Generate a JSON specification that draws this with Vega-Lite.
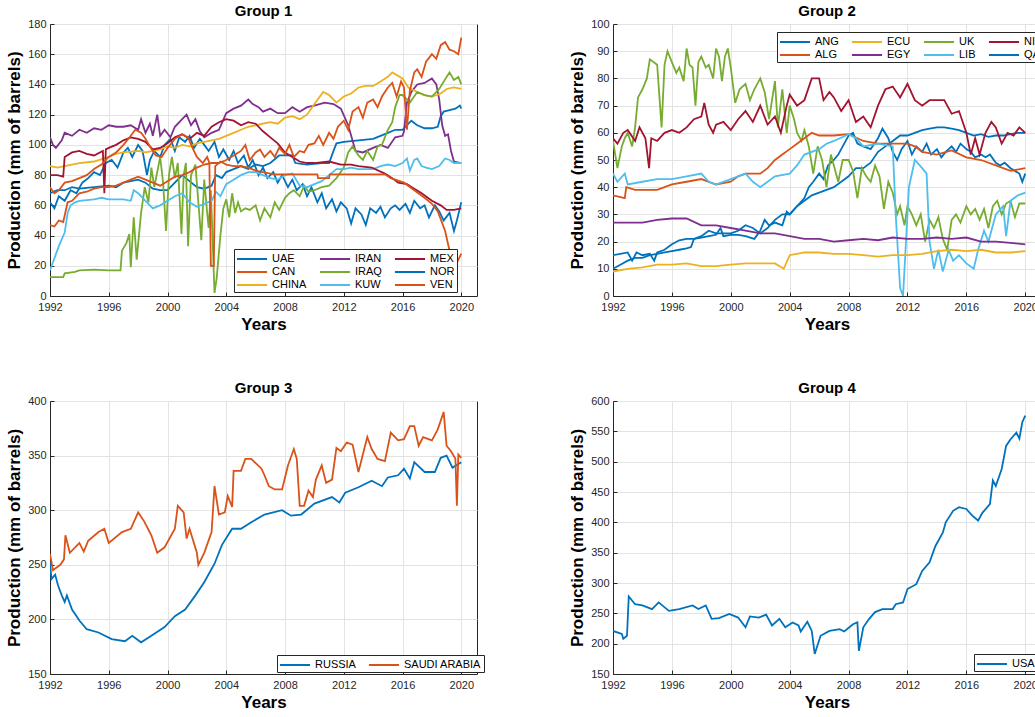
{
"$schema":"https://vega.github.io/schema/vega-lite/v6.json",
"padding":{"left":5,"top":3,"right":0,"bottom":0},
"background":"white",
"columns":2,
"spacing":{"row":47,"column":83},
"resolve":{"scale":{"color":"independent","x":"independent","y":"independent"},"legend":{"color":"independent"},"axis":{"x":"independent","y":"independent"}},
"datasets":{
"g1":[
{"s":"UAE","t":1992,"v":68},{"s":"UAE","t":1992.5,"v":70},{"s":"UAE","t":1993,"v":70},{"s":"UAE","t":1993.5,"v":72},{"s":"UAE","t":1994,"v":71},{"s":"UAE","t":1995,"v":72},{"s":"UAE","t":1996,"v":73},{"s":"UAE","t":1996.5,"v":72},{"s":"UAE","t":1997,"v":75},{"s":"UAE","t":1997.5,"v":76},{"s":"UAE","t":1998,"v":77},{"s":"UAE","t":1998.5,"v":75},{"s":"UAE","t":1999,"v":71},{"s":"UAE","t":1999.5,"v":70},{"s":"UAE","t":2000,"v":70},{"s":"UAE","t":2000.5,"v":75},{"s":"UAE","t":2001,"v":80},{"s":"UAE","t":2001.5,"v":76},{"s":"UAE","t":2002,"v":72},{"s":"UAE","t":2002.5,"v":71},{"s":"UAE","t":2003,"v":73},{"s":"UAE","t":2003.3,"v":80},{"s":"UAE","t":2003.7,"v":78},{"s":"UAE","t":2004,"v":82},{"s":"UAE","t":2004.5,"v":84},{"s":"UAE","t":2005,"v":86},{"s":"UAE","t":2005.5,"v":84},{"s":"UAE","t":2006,"v":87},{"s":"UAE","t":2006.5,"v":86},{"s":"UAE","t":2007,"v":88},{"s":"UAE","t":2007.6,"v":93},{"s":"UAE","t":2008.5,"v":93},{"s":"UAE","t":2008.7,"v":88},{"s":"UAE","t":2009.5,"v":87},{"s":"UAE","t":2010.5,"v":88},{"s":"UAE","t":2011,"v":88},{"s":"UAE","t":2011.3,"v":96},{"s":"UAE","t":2011.5,"v":101},{"s":"UAE","t":2012,"v":102},{"s":"UAE","t":2013,"v":103},{"s":"UAE","t":2014,"v":104},{"s":"UAE","t":2014.5,"v":106},{"s":"UAE","t":2015,"v":108},{"s":"UAE","t":2015.5,"v":110},{"s":"UAE","t":2016,"v":110},{"s":"UAE","t":2016.3,"v":113},{"s":"UAE","t":2016.6,"v":116},{"s":"UAE","t":2017,"v":113},{"s":"UAE","t":2017.5,"v":111},{"s":"UAE","t":2018,"v":111},{"s":"UAE","t":2018.4,"v":112},{"s":"UAE","t":2018.6,"v":119},{"s":"UAE","t":2018.8,"v":122},{"s":"UAE","t":2019.2,"v":123},{"s":"UAE","t":2019.6,"v":124},{"s":"UAE","t":2019.9,"v":126},{"s":"UAE","t":2020,"v":124},
{"s":"NOR","t":1992,"v":62},{"s":"NOR","t":1992.3,"v":58},{"s":"NOR","t":1992.6,"v":66},{"s":"NOR","t":1993,"v":63},{"s":"NOR","t":1993.4,"v":70},{"s":"NOR","t":1993.8,"v":68},{"s":"NOR","t":1994.2,"v":75},{"s":"NOR","t":1994.6,"v":78},{"s":"NOR","t":1995,"v":82},{"s":"NOR","t":1995.4,"v":80},{"s":"NOR","t":1995.8,"v":88},{"s":"NOR","t":1996.2,"v":90},{"s":"NOR","t":1996.6,"v":85},{"s":"NOR","t":1997,"v":95},{"s":"NOR","t":1997.3,"v":98},{"s":"NOR","t":1997.6,"v":92},{"s":"NOR","t":1998,"v":100},{"s":"NOR","t":1998.3,"v":96},{"s":"NOR","t":1998.6,"v":80},{"s":"NOR","t":1998.8,"v":90},{"s":"NOR","t":1999.1,"v":96},{"s":"NOR","t":1999.5,"v":92},{"s":"NOR","t":1999.8,"v":100},{"s":"NOR","t":2000.2,"v":104},{"s":"NOR","t":2000.5,"v":96},{"s":"NOR","t":2000.8,"v":105},{"s":"NOR","t":2001.2,"v":102},{"s":"NOR","t":2001.5,"v":106},{"s":"NOR","t":2001.8,"v":98},{"s":"NOR","t":2002.2,"v":104},{"s":"NOR","t":2002.5,"v":100},{"s":"NOR","t":2002.8,"v":96},{"s":"NOR","t":2003.2,"v":102},{"s":"NOR","t":2003.5,"v":92},{"s":"NOR","t":2003.8,"v":97},{"s":"NOR","t":2004.2,"v":90},{"s":"NOR","t":2004.5,"v":96},{"s":"NOR","t":2004.8,"v":88},{"s":"NOR","t":2005.2,"v":93},{"s":"NOR","t":2005.5,"v":85},{"s":"NOR","t":2005.8,"v":90},{"s":"NOR","t":2006.2,"v":80},{"s":"NOR","t":2006.5,"v":85},{"s":"NOR","t":2006.8,"v":78},{"s":"NOR","t":2007.2,"v":82},{"s":"NOR","t":2007.5,"v":75},{"s":"NOR","t":2007.8,"v":80},{"s":"NOR","t":2008.2,"v":72},{"s":"NOR","t":2008.5,"v":77},{"s":"NOR","t":2008.8,"v":70},{"s":"NOR","t":2009.2,"v":74},{"s":"NOR","t":2009.5,"v":66},{"s":"NOR","t":2009.8,"v":72},{"s":"NOR","t":2010.2,"v":62},{"s":"NOR","t":2010.5,"v":68},{"s":"NOR","t":2010.8,"v":58},{"s":"NOR","t":2011.2,"v":64},{"s":"NOR","t":2011.5,"v":56},{"s":"NOR","t":2011.8,"v":62},{"s":"NOR","t":2012.2,"v":58},{"s":"NOR","t":2012.5,"v":48},{"s":"NOR","t":2012.8,"v":58},{"s":"NOR","t":2013.2,"v":54},{"s":"NOR","t":2013.5,"v":47},{"s":"NOR","t":2013.8,"v":58},{"s":"NOR","t":2014.2,"v":55},{"s":"NOR","t":2014.5,"v":59},{"s":"NOR","t":2014.8,"v":52},{"s":"NOR","t":2015.2,"v":58},{"s":"NOR","t":2015.5,"v":60},{"s":"NOR","t":2015.8,"v":57},{"s":"NOR","t":2016.2,"v":61},{"s":"NOR","t":2016.5,"v":55},{"s":"NOR","t":2016.8,"v":63},{"s":"NOR","t":2017.2,"v":58},{"s":"NOR","t":2017.5,"v":60},{"s":"NOR","t":2017.8,"v":52},{"s":"NOR","t":2018.2,"v":60},{"s":"NOR","t":2018.5,"v":56},{"s":"NOR","t":2018.8,"v":50},{"s":"NOR","t":2019.2,"v":55},{"s":"NOR","t":2019.5,"v":43},{"s":"NOR","t":2019.7,"v":50},{"s":"NOR","t":2019.9,"v":58},{"s":"NOR","t":2020,"v":62},
{"s":"IRAN","t":1992,"v":105},{"s":"IRAN","t":1992.2,"v":100},{"s":"IRAN","t":1992.4,"v":98},{"s":"IRAN","t":1992.8,"v":103},{"s":"IRAN","t":1993,"v":108},{"s":"IRAN","t":1993.5,"v":106},{"s":"IRAN","t":1994,"v":110},{"s":"IRAN","t":1994.5,"v":108},{"s":"IRAN","t":1995,"v":111},{"s":"IRAN","t":1995.5,"v":110},{"s":"IRAN","t":1996,"v":113},{"s":"IRAN","t":1996.5,"v":112},{"s":"IRAN","t":1997,"v":112},{"s":"IRAN","t":1997.5,"v":113},{"s":"IRAN","t":1998,"v":110},{"s":"IRAN","t":1998.2,"v":117},{"s":"IRAN","t":1998.5,"v":108},{"s":"IRAN","t":1998.8,"v":114},{"s":"IRAN","t":1999,"v":106},{"s":"IRAN","t":1999.3,"v":120},{"s":"IRAN","t":1999.5,"v":106},{"s":"IRAN","t":1999.8,"v":110},{"s":"IRAN","t":2000.2,"v":105},{"s":"IRAN","t":2000.5,"v":112},{"s":"IRAN","t":2001,"v":117},{"s":"IRAN","t":2001.3,"v":120},{"s":"IRAN","t":2001.6,"v":113},{"s":"IRAN","t":2001.9,"v":117},{"s":"IRAN","t":2002.2,"v":109},{"s":"IRAN","t":2002.5,"v":105},{"s":"IRAN","t":2003,"v":108},{"s":"IRAN","t":2003.5,"v":110},{"s":"IRAN","t":2004,"v":121},{"s":"IRAN","t":2004.5,"v":124},{"s":"IRAN","t":2005,"v":126},{"s":"IRAN","t":2005.5,"v":130},{"s":"IRAN","t":2005.8,"v":127},{"s":"IRAN","t":2006.2,"v":125},{"s":"IRAN","t":2006.5,"v":122},{"s":"IRAN","t":2007,"v":124},{"s":"IRAN","t":2007.5,"v":121},{"s":"IRAN","t":2008,"v":121},{"s":"IRAN","t":2008.5,"v":125},{"s":"IRAN","t":2009,"v":122},{"s":"IRAN","t":2009.5,"v":125},{"s":"IRAN","t":2010,"v":126},{"s":"IRAN","t":2010.7,"v":128},{"s":"IRAN","t":2011.3,"v":127},{"s":"IRAN","t":2011.8,"v":124},{"s":"IRAN","t":2012.3,"v":113},{"s":"IRAN","t":2012.8,"v":96},{"s":"IRAN","t":2013.3,"v":95},{"s":"IRAN","t":2014,"v":98},{"s":"IRAN","t":2014.5,"v":100},{"s":"IRAN","t":2015,"v":98},{"s":"IRAN","t":2015.5,"v":105},{"s":"IRAN","t":2016,"v":106},{"s":"IRAN","t":2016.1,"v":109},{"s":"IRAN","t":2016.3,"v":128},{"s":"IRAN","t":2016.6,"v":135},{"s":"IRAN","t":2017,"v":140},{"s":"IRAN","t":2017.5,"v":141},{"s":"IRAN","t":2018,"v":144},{"s":"IRAN","t":2018.3,"v":140},{"s":"IRAN","t":2018.5,"v":130},{"s":"IRAN","t":2018.7,"v":113},{"s":"IRAN","t":2018.9,"v":106},{"s":"IRAN","t":2019.1,"v":107},{"s":"IRAN","t":2019.3,"v":96},{"s":"IRAN","t":2019.5,"v":89},{"s":"IRAN","t":2020,"v":88},
{"s":"CHINA","t":1992,"v":86},{"s":"CHINA","t":1992.5,"v":85},{"s":"CHINA","t":1993,"v":86},{"s":"CHINA","t":1993.5,"v":87},{"s":"CHINA","t":1994,"v":88},{"s":"CHINA","t":1995,"v":89},{"s":"CHINA","t":1996,"v":92},{"s":"CHINA","t":1996.5,"v":94},{"s":"CHINA","t":1997,"v":95},{"s":"CHINA","t":1998,"v":96},{"s":"CHINA","t":1998.5,"v":95},{"s":"CHINA","t":1999,"v":96},{"s":"CHINA","t":1999.5,"v":97},{"s":"CHINA","t":2000,"v":99},{"s":"CHINA","t":2000.5,"v":98},{"s":"CHINA","t":2001,"v":100},{"s":"CHINA","t":2001.5,"v":99},{"s":"CHINA","t":2002,"v":101},{"s":"CHINA","t":2002.5,"v":102},{"s":"CHINA","t":2003,"v":103},{"s":"CHINA","t":2003.5,"v":104},{"s":"CHINA","t":2004,"v":106},{"s":"CHINA","t":2004.5,"v":108},{"s":"CHINA","t":2005,"v":110},{"s":"CHINA","t":2005.5,"v":112},{"s":"CHINA","t":2006,"v":113},{"s":"CHINA","t":2006.5,"v":114},{"s":"CHINA","t":2007,"v":115},{"s":"CHINA","t":2007.5,"v":114},{"s":"CHINA","t":2008,"v":118},{"s":"CHINA","t":2008.5,"v":119},{"s":"CHINA","t":2009,"v":117},{"s":"CHINA","t":2009.5,"v":120},{"s":"CHINA","t":2010,"v":127},{"s":"CHINA","t":2010.6,"v":135},{"s":"CHINA","t":2011,"v":133},{"s":"CHINA","t":2011.5,"v":128},{"s":"CHINA","t":2012,"v":132},{"s":"CHINA","t":2012.5,"v":134},{"s":"CHINA","t":2013,"v":138},{"s":"CHINA","t":2013.5,"v":139},{"s":"CHINA","t":2014,"v":139},{"s":"CHINA","t":2014.5,"v":142},{"s":"CHINA","t":2015,"v":145},{"s":"CHINA","t":2015.3,"v":148},{"s":"CHINA","t":2016,"v":144},{"s":"CHINA","t":2016.4,"v":138},{"s":"CHINA","t":2017,"v":135},{"s":"CHINA","t":2017.5,"v":133},{"s":"CHINA","t":2018,"v":132},{"s":"CHINA","t":2018.6,"v":134},{"s":"CHINA","t":2019,"v":137},{"s":"CHINA","t":2019.5,"v":138},{"s":"CHINA","t":2020,"v":137},
{"s":"IRAQ","t":1992,"v":12.5},{"s":"IRAQ","t":1992.9,"v":12.5},{"s":"IRAQ","t":1993,"v":15},{"s":"IRAQ","t":1993.7,"v":16},{"s":"IRAQ","t":1994,"v":17},{"s":"IRAQ","t":1995,"v":17.5},{"s":"IRAQ","t":1996,"v":17},{"s":"IRAQ","t":1996.8,"v":17},{"s":"IRAQ","t":1996.9,"v":30},{"s":"IRAQ","t":1997.2,"v":35},{"s":"IRAQ","t":1997.4,"v":41},{"s":"IRAQ","t":1997.5,"v":19},{"s":"IRAQ","t":1997.7,"v":52},{"s":"IRAQ","t":1997.9,"v":24},{"s":"IRAQ","t":1998.2,"v":55},{"s":"IRAQ","t":1998.45,"v":72},{"s":"IRAQ","t":1998.7,"v":62},{"s":"IRAQ","t":1998.9,"v":85},{"s":"IRAQ","t":1999.1,"v":72},{"s":"IRAQ","t":1999.3,"v":82},{"s":"IRAQ","t":1999.5,"v":92},{"s":"IRAQ","t":1999.7,"v":75},{"s":"IRAQ","t":1999.9,"v":43},{"s":"IRAQ","t":2000.1,"v":80},{"s":"IRAQ","t":2000.3,"v":92},{"s":"IRAQ","t":2000.5,"v":78},{"s":"IRAQ","t":2000.7,"v":88},{"s":"IRAQ","t":2000.95,"v":41},{"s":"IRAQ","t":2001.1,"v":80},{"s":"IRAQ","t":2001.25,"v":88},{"s":"IRAQ","t":2001.4,"v":33},{"s":"IRAQ","t":2001.6,"v":80},{"s":"IRAQ","t":2001.9,"v":87},{"s":"IRAQ","t":2002.1,"v":62},{"s":"IRAQ","t":2002.3,"v":37},{"s":"IRAQ","t":2002.5,"v":77},{"s":"IRAQ","t":2002.7,"v":55},{"s":"IRAQ","t":2002.8,"v":45},{"s":"IRAQ","t":2002.95,"v":70},{"s":"IRAQ","t":2003.2,"v":2},{"s":"IRAQ","t":2003.35,"v":12},{"s":"IRAQ","t":2003.6,"v":40},{"s":"IRAQ","t":2003.8,"v":58},{"s":"IRAQ","t":2004,"v":64},{"s":"IRAQ","t":2004.2,"v":52},{"s":"IRAQ","t":2004.4,"v":68},{"s":"IRAQ","t":2004.6,"v":55},{"s":"IRAQ","t":2004.8,"v":62},{"s":"IRAQ","t":2005,"v":56},{"s":"IRAQ","t":2005.3,"v":58},{"s":"IRAQ","t":2005.6,"v":57},{"s":"IRAQ","t":2006,"v":60},{"s":"IRAQ","t":2006.3,"v":50},{"s":"IRAQ","t":2006.6,"v":58},{"s":"IRAQ","t":2007,"v":52},{"s":"IRAQ","t":2007.3,"v":62},{"s":"IRAQ","t":2007.6,"v":57},{"s":"IRAQ","t":2008,"v":65},{"s":"IRAQ","t":2008.3,"v":68},{"s":"IRAQ","t":2008.6,"v":70},{"s":"IRAQ","t":2009,"v":66},{"s":"IRAQ","t":2009.3,"v":73},{"s":"IRAQ","t":2009.6,"v":69},{"s":"IRAQ","t":2010,"v":70},{"s":"IRAQ","t":2010.5,"v":72},{"s":"IRAQ","t":2011,"v":73},{"s":"IRAQ","t":2011.5,"v":78},{"s":"IRAQ","t":2012,"v":85},{"s":"IRAQ","t":2012.3,"v":95},{"s":"IRAQ","t":2012.6,"v":99},{"s":"IRAQ","t":2013,"v":93},{"s":"IRAQ","t":2013.3,"v":90},{"s":"IRAQ","t":2013.6,"v":96},{"s":"IRAQ","t":2014,"v":90},{"s":"IRAQ","t":2014.3,"v":99},{"s":"IRAQ","t":2014.6,"v":100},{"s":"IRAQ","t":2015,"v":110},{"s":"IRAQ","t":2015.3,"v":115},{"s":"IRAQ","t":2015.5,"v":125},{"s":"IRAQ","t":2015.8,"v":133},{"s":"IRAQ","t":2016,"v":133},{"s":"IRAQ","t":2016.5,"v":128},{"s":"IRAQ","t":2017,"v":135},{"s":"IRAQ","t":2017.5,"v":133},{"s":"IRAQ","t":2018,"v":132},{"s":"IRAQ","t":2018.5,"v":137},{"s":"IRAQ","t":2019,"v":145},{"s":"IRAQ","t":2019.2,"v":148},{"s":"IRAQ","t":2019.5,"v":143},{"s":"IRAQ","t":2019.8,"v":145},{"s":"IRAQ","t":2020,"v":140},
{"s":"KUW","t":1992,"v":17},{"s":"KUW","t":1992.3,"v":25},{"s":"KUW","t":1992.6,"v":33},{"s":"KUW","t":1993,"v":42},{"s":"KUW","t":1993.2,"v":55},{"s":"KUW","t":1993.4,"v":60},{"s":"KUW","t":1993.7,"v":62},{"s":"KUW","t":1994,"v":63},{"s":"KUW","t":1995,"v":64},{"s":"KUW","t":1995.5,"v":65},{"s":"KUW","t":1996,"v":64},{"s":"KUW","t":1997,"v":64},{"s":"KUW","t":1997.5,"v":63},{"s":"KUW","t":1997.7,"v":70},{"s":"KUW","t":1998,"v":68},{"s":"KUW","t":1998.5,"v":63},{"s":"KUW","t":1999,"v":58},{"s":"KUW","t":1999.5,"v":60},{"s":"KUW","t":2000,"v":63},{"s":"KUW","t":2000.5,"v":66},{"s":"KUW","t":2001,"v":68},{"s":"KUW","t":2001.5,"v":62},{"s":"KUW","t":2002,"v":59},{"s":"KUW","t":2002.5,"v":61},{"s":"KUW","t":2003,"v":63},{"s":"KUW","t":2003.3,"v":69},{"s":"KUW","t":2003.6,"v":66},{"s":"KUW","t":2003.8,"v":70},{"s":"KUW","t":2004,"v":74},{"s":"KUW","t":2004.5,"v":77},{"s":"KUW","t":2005,"v":80},{"s":"KUW","t":2005.5,"v":82},{"s":"KUW","t":2006,"v":82},{"s":"KUW","t":2006.5,"v":80},{"s":"KUW","t":2007,"v":78},{"s":"KUW","t":2007.5,"v":77},{"s":"KUW","t":2008,"v":80},{"s":"KUW","t":2008.5,"v":81},{"s":"KUW","t":2009,"v":73},{"s":"KUW","t":2009.5,"v":72},{"s":"KUW","t":2010,"v":74},{"s":"KUW","t":2010.5,"v":76},{"s":"KUW","t":2011,"v":80},{"s":"KUW","t":2011.5,"v":84},{"s":"KUW","t":2012,"v":84},{"s":"KUW","t":2012.5,"v":85},{"s":"KUW","t":2013,"v":84},{"s":"KUW","t":2014,"v":84},{"s":"KUW","t":2014.5,"v":86},{"s":"KUW","t":2015,"v":87},{"s":"KUW","t":2015.5,"v":86},{"s":"KUW","t":2016,"v":88},{"s":"KUW","t":2016.3,"v":91},{"s":"KUW","t":2016.5,"v":83},{"s":"KUW","t":2016.8,"v":90},{"s":"KUW","t":2017,"v":91},{"s":"KUW","t":2017.3,"v":86},{"s":"KUW","t":2017.6,"v":85},{"s":"KUW","t":2018,"v":84},{"s":"KUW","t":2018.5,"v":86},{"s":"KUW","t":2018.9,"v":91},{"s":"KUW","t":2019.2,"v":90},{"s":"KUW","t":2019.5,"v":88},{"s":"KUW","t":2020,"v":88},
{"s":"MEX","t":1992,"v":80},{"s":"MEX","t":1992.5,"v":80},{"s":"MEX","t":1992.9,"v":79},{"s":"MEX","t":1993,"v":92},{"s":"MEX","t":1993.5,"v":95},{"s":"MEX","t":1994,"v":96},{"s":"MEX","t":1994.5,"v":94},{"s":"MEX","t":1995,"v":93},{"s":"MEX","t":1995.6,"v":96},{"s":"MEX","t":1995.7,"v":68},{"s":"MEX","t":1995.8,"v":97},{"s":"MEX","t":1996,"v":98},{"s":"MEX","t":1996.5,"v":100},{"s":"MEX","t":1997,"v":103},{"s":"MEX","t":1997.5,"v":105},{"s":"MEX","t":1998,"v":104},{"s":"MEX","t":1998.5,"v":102},{"s":"MEX","t":1999,"v":97},{"s":"MEX","t":1999.5,"v":98},{"s":"MEX","t":2000,"v":101},{"s":"MEX","t":2000.5,"v":105},{"s":"MEX","t":2001,"v":107},{"s":"MEX","t":2001.5,"v":104},{"s":"MEX","t":2002,"v":108},{"s":"MEX","t":2002.5,"v":106},{"s":"MEX","t":2003,"v":112},{"s":"MEX","t":2003.5,"v":115},{"s":"MEX","t":2004,"v":117},{"s":"MEX","t":2004.5,"v":116},{"s":"MEX","t":2005,"v":113},{"s":"MEX","t":2005.5,"v":115},{"s":"MEX","t":2006,"v":114},{"s":"MEX","t":2006.5,"v":109},{"s":"MEX","t":2007,"v":105},{"s":"MEX","t":2007.5,"v":101},{"s":"MEX","t":2008,"v":95},{"s":"MEX","t":2008.5,"v":92},{"s":"MEX","t":2009,"v":89},{"s":"MEX","t":2009.5,"v":88},{"s":"MEX","t":2010,"v":88},{"s":"MEX","t":2011,"v":89},{"s":"MEX","t":2011.8,"v":87},{"s":"MEX","t":2012.5,"v":87},{"s":"MEX","t":2013,"v":86},{"s":"MEX","t":2013.9,"v":85},{"s":"MEX","t":2014.8,"v":81},{"s":"MEX","t":2015.3,"v":78},{"s":"MEX","t":2015.7,"v":75},{"s":"MEX","t":2016.3,"v":74},{"s":"MEX","t":2016.8,"v":71},{"s":"MEX","t":2017.3,"v":68},{"s":"MEX","t":2018,"v":63},{"s":"MEX","t":2018.6,"v":60},{"s":"MEX","t":2019,"v":57},{"s":"MEX","t":2019.5,"v":57},{"s":"MEX","t":2020,"v":58},
{"s":"CAN","t":1992,"v":47},{"s":"CAN","t":1992.3,"v":46},{"s":"CAN","t":1992.6,"v":50},{"s":"CAN","t":1992.9,"v":49},{"s":"CAN","t":1993.2,"v":62},{"s":"CAN","t":1993.5,"v":63},{"s":"CAN","t":1993.8,"v":66},{"s":"CAN","t":1994,"v":68},{"s":"CAN","t":1994.5,"v":69},{"s":"CAN","t":1995,"v":71},{"s":"CAN","t":1995.5,"v":72},{"s":"CAN","t":1996,"v":72},{"s":"CAN","t":1996.5,"v":73},{"s":"CAN","t":1997,"v":75},{"s":"CAN","t":1997.5,"v":77},{"s":"CAN","t":1998,"v":79},{"s":"CAN","t":1998.5,"v":77},{"s":"CAN","t":1999,"v":75},{"s":"CAN","t":1999.5,"v":73},{"s":"CAN","t":2000,"v":76},{"s":"CAN","t":2000.5,"v":79},{"s":"CAN","t":2001,"v":80},{"s":"CAN","t":2001.5,"v":82},{"s":"CAN","t":2002,"v":85},{"s":"CAN","t":2002.5,"v":87},{"s":"CAN","t":2003,"v":88},{"s":"CAN","t":2003.5,"v":88},{"s":"CAN","t":2004,"v":90},{"s":"CAN","t":2004.5,"v":93},{"s":"CAN","t":2005,"v":96},{"s":"CAN","t":2005.3,"v":100},{"s":"CAN","t":2005.6,"v":90},{"s":"CAN","t":2006,"v":95},{"s":"CAN","t":2006.3,"v":97},{"s":"CAN","t":2006.6,"v":92},{"s":"CAN","t":2007,"v":96},{"s":"CAN","t":2007.3,"v":92},{"s":"CAN","t":2007.6,"v":98},{"s":"CAN","t":2008,"v":94},{"s":"CAN","t":2008.3,"v":100},{"s":"CAN","t":2008.6,"v":92},{"s":"CAN","t":2009,"v":96},{"s":"CAN","t":2009.3,"v":95},{"s":"CAN","t":2009.6,"v":100},{"s":"CAN","t":2010,"v":101},{"s":"CAN","t":2010.3,"v":106},{"s":"CAN","t":2010.6,"v":100},{"s":"CAN","t":2011,"v":108},{"s":"CAN","t":2011.3,"v":104},{"s":"CAN","t":2011.6,"v":112},{"s":"CAN","t":2012,"v":116},{"s":"CAN","t":2012.3,"v":110},{"s":"CAN","t":2012.6,"v":122},{"s":"CAN","t":2013,"v":125},{"s":"CAN","t":2013.3,"v":118},{"s":"CAN","t":2013.6,"v":128},{"s":"CAN","t":2014,"v":130},{"s":"CAN","t":2014.3,"v":125},{"s":"CAN","t":2014.6,"v":132},{"s":"CAN","t":2015,"v":138},{"s":"CAN","t":2015.3,"v":141},{"s":"CAN","t":2015.6,"v":132},{"s":"CAN","t":2015.9,"v":142},{"s":"CAN","t":2016.1,"v":138},{"s":"CAN","t":2016.3,"v":110},{"s":"CAN","t":2016.5,"v":136},{"s":"CAN","t":2016.8,"v":148},{"s":"CAN","t":2017,"v":150},{"s":"CAN","t":2017.3,"v":145},{"s":"CAN","t":2017.6,"v":155},{"s":"CAN","t":2018,"v":160},{"s":"CAN","t":2018.3,"v":157},{"s":"CAN","t":2018.6,"v":166},{"s":"CAN","t":2018.9,"v":168},{"s":"CAN","t":2019.2,"v":163},{"s":"CAN","t":2019.5,"v":162},{"s":"CAN","t":2019.8,"v":160},{"s":"CAN","t":2020,"v":171},
{"s":"VEN","t":1992,"v":72},{"s":"VEN","t":1992.3,"v":68},{"s":"VEN","t":1992.6,"v":70},{"s":"VEN","t":1993,"v":75},{"s":"VEN","t":1993.5,"v":76},{"s":"VEN","t":1994,"v":78},{"s":"VEN","t":1994.5,"v":80},{"s":"VEN","t":1995,"v":84},{"s":"VEN","t":1995.5,"v":87},{"s":"VEN","t":1996,"v":92},{"s":"VEN","t":1996.5,"v":95},{"s":"VEN","t":1997,"v":100},{"s":"VEN","t":1997.5,"v":106},{"s":"VEN","t":1997.8,"v":110},{"s":"VEN","t":1998.2,"v":108},{"s":"VEN","t":1998.5,"v":104},{"s":"VEN","t":1998.8,"v":99},{"s":"VEN","t":1999.2,"v":93},{"s":"VEN","t":1999.6,"v":92},{"s":"VEN","t":2000,"v":98},{"s":"VEN","t":2000.5,"v":104},{"s":"VEN","t":2001,"v":107},{"s":"VEN","t":2001.4,"v":105},{"s":"VEN","t":2001.7,"v":98},{"s":"VEN","t":2002,"v":92},{"s":"VEN","t":2002.4,"v":88},{"s":"VEN","t":2002.7,"v":92},{"s":"VEN","t":2002.85,"v":88},{"s":"VEN","t":2002.95,"v":20},{"s":"VEN","t":2003.15,"v":20},{"s":"VEN","t":2003.25,"v":86},{"s":"VEN","t":2003.6,"v":89},{"s":"VEN","t":2004,"v":87},{"s":"VEN","t":2004.5,"v":86},{"s":"VEN","t":2005,"v":86},{"s":"VEN","t":2005.5,"v":85},{"s":"VEN","t":2006,"v":83},{"s":"VEN","t":2006.5,"v":82},{"s":"VEN","t":2007,"v":81},{"s":"VEN","t":2007.3,"v":80.5},{"s":"VEN","t":2010.2,"v":80.5},{"s":"VEN","t":2010.25,"v":78},{"s":"VEN","t":2011,"v":78},{"s":"VEN","t":2011.05,"v":80.5},{"s":"VEN","t":2014.8,"v":80.5},{"s":"VEN","t":2015.2,"v":78},{"s":"VEN","t":2016.1,"v":75},{"s":"VEN","t":2016.8,"v":70},{"s":"VEN","t":2017.5,"v":65},{"s":"VEN","t":2018,"v":61},{"s":"VEN","t":2018.4,"v":56},{"s":"VEN","t":2018.9,"v":43},{"s":"VEN","t":2019.2,"v":30},{"s":"VEN","t":2019.5,"v":24},{"s":"VEN","t":2019.7,"v":22},{"s":"VEN","t":2020,"v":28}
],
"g2":[
{"s":"ANG","t":1992,"v":15},{"s":"ANG","t":1992.5,"v":15.5},{"s":"ANG","t":1993,"v":16},{"s":"ANG","t":1993.3,"v":13},{"s":"ANG","t":1993.6,"v":16},{"s":"ANG","t":1994,"v":15},{"s":"ANG","t":1994.5,"v":15.5},{"s":"ANG","t":1994.8,"v":13},{"s":"ANG","t":1995,"v":16},{"s":"ANG","t":1995.5,"v":17},{"s":"ANG","t":1996,"v":19},{"s":"ANG","t":1996.5,"v":20.5},{"s":"ANG","t":1997,"v":21},{"s":"ANG","t":1997.5,"v":21},{"s":"ANG","t":1998,"v":21.5},{"s":"ANG","t":1998.5,"v":22},{"s":"ANG","t":1999,"v":22.5},{"s":"ANG","t":1999.3,"v":25},{"s":"ANG","t":1999.5,"v":22},{"s":"ANG","t":2000,"v":22.5},{"s":"ANG","t":2000.5,"v":22.5},{"s":"ANG","t":2001,"v":22},{"s":"ANG","t":2001.6,"v":21},{"s":"ANG","t":2002,"v":24},{"s":"ANG","t":2002.3,"v":28},{"s":"ANG","t":2002.6,"v":26},{"s":"ANG","t":2003,"v":27},{"s":"ANG","t":2003.5,"v":26},{"s":"ANG","t":2003.8,"v":31},{"s":"ANG","t":2004,"v":30},{"s":"ANG","t":2004.5,"v":33},{"s":"ANG","t":2005,"v":36},{"s":"ANG","t":2005.3,"v":40},{"s":"ANG","t":2005.6,"v":42},{"s":"ANG","t":2006,"v":45},{"s":"ANG","t":2006.3,"v":43},{"s":"ANG","t":2006.6,"v":48},{"s":"ANG","t":2007,"v":50},{"s":"ANG","t":2007.3,"v":52},{"s":"ANG","t":2007.6,"v":55},{"s":"ANG","t":2008,"v":59},{"s":"ANG","t":2008.3,"v":60},{"s":"ANG","t":2008.6,"v":56},{"s":"ANG","t":2009,"v":55},{"s":"ANG","t":2009.5,"v":54},{"s":"ANG","t":2010,"v":58},{"s":"ANG","t":2010.3,"v":61.5},{"s":"ANG","t":2010.7,"v":58},{"s":"ANG","t":2011,"v":53},{"s":"ANG","t":2011.3,"v":50},{"s":"ANG","t":2011.6,"v":54},{"s":"ANG","t":2012,"v":57},{"s":"ANG","t":2012.3,"v":52},{"s":"ANG","t":2012.6,"v":55},{"s":"ANG","t":2013,"v":53},{"s":"ANG","t":2013.3,"v":56},{"s":"ANG","t":2013.6,"v":52},{"s":"ANG","t":2014,"v":54},{"s":"ANG","t":2014.3,"v":51},{"s":"ANG","t":2014.6,"v":53},{"s":"ANG","t":2015,"v":55},{"s":"ANG","t":2015.3,"v":53},{"s":"ANG","t":2015.6,"v":56},{"s":"ANG","t":2016,"v":54},{"s":"ANG","t":2016.3,"v":53},{"s":"ANG","t":2016.6,"v":51},{"s":"ANG","t":2017,"v":52},{"s":"ANG","t":2017.3,"v":51},{"s":"ANG","t":2017.6,"v":52},{"s":"ANG","t":2018,"v":49},{"s":"ANG","t":2018.3,"v":48},{"s":"ANG","t":2018.6,"v":49},{"s":"ANG","t":2019,"v":47},{"s":"ANG","t":2019.3,"v":46},{"s":"ANG","t":2019.6,"v":45},{"s":"ANG","t":2019.8,"v":42},{"s":"ANG","t":2020,"v":45},
{"s":"QAT","t":1992,"v":10},{"s":"QAT","t":1992.5,"v":11.5},{"s":"QAT","t":1993,"v":13},{"s":"QAT","t":1993.5,"v":14},{"s":"QAT","t":1994,"v":14},{"s":"QAT","t":1994.5,"v":15},{"s":"QAT","t":1995,"v":15.5},{"s":"QAT","t":1995.5,"v":16},{"s":"QAT","t":1996,"v":16.5},{"s":"QAT","t":1996.5,"v":17},{"s":"QAT","t":1997,"v":17.5},{"s":"QAT","t":1997.3,"v":18},{"s":"QAT","t":1997.5,"v":21},{"s":"QAT","t":1998,"v":22},{"s":"QAT","t":1998.5,"v":24},{"s":"QAT","t":1999,"v":23},{"s":"QAT","t":1999.5,"v":23},{"s":"QAT","t":2000,"v":23},{"s":"QAT","t":2000.5,"v":24},{"s":"QAT","t":2001,"v":26},{"s":"QAT","t":2001.5,"v":25},{"s":"QAT","t":2002,"v":23},{"s":"QAT","t":2002.5,"v":25},{"s":"QAT","t":2003,"v":28},{"s":"QAT","t":2003.5,"v":30},{"s":"QAT","t":2004,"v":30},{"s":"QAT","t":2004.5,"v":33},{"s":"QAT","t":2005,"v":35},{"s":"QAT","t":2005.5,"v":37},{"s":"QAT","t":2006,"v":38},{"s":"QAT","t":2006.5,"v":39},{"s":"QAT","t":2007,"v":40},{"s":"QAT","t":2007.5,"v":42},{"s":"QAT","t":2008,"v":44},{"s":"QAT","t":2008.5,"v":47},{"s":"QAT","t":2009,"v":47},{"s":"QAT","t":2009.5,"v":49},{"s":"QAT","t":2010,"v":53},{"s":"QAT","t":2010.5,"v":55},{"s":"QAT","t":2011,"v":57},{"s":"QAT","t":2011.5,"v":59},{"s":"QAT","t":2012,"v":59},{"s":"QAT","t":2012.5,"v":60},{"s":"QAT","t":2013,"v":61},{"s":"QAT","t":2013.5,"v":61.5},{"s":"QAT","t":2014,"v":62},{"s":"QAT","t":2014.5,"v":62},{"s":"QAT","t":2015,"v":61.5},{"s":"QAT","t":2015.5,"v":61},{"s":"QAT","t":2016,"v":60},{"s":"QAT","t":2016.5,"v":59},{"s":"QAT","t":2017,"v":59.5},{"s":"QAT","t":2017.5,"v":58.5},{"s":"QAT","t":2018,"v":59},{"s":"QAT","t":2018.5,"v":59},{"s":"QAT","t":2019,"v":59.5},{"s":"QAT","t":2019.5,"v":60},{"s":"QAT","t":2020,"v":60},
{"s":"UK","t":1992,"v":57},{"s":"UK","t":1992.3,"v":47},{"s":"UK","t":1992.6,"v":55},{"s":"UK","t":1992.8,"v":58},{"s":"UK","t":1993,"v":60},{"s":"UK","t":1993.3,"v":55},{"s":"UK","t":1993.5,"v":62},{"s":"UK","t":1993.7,"v":73},{"s":"UK","t":1994,"v":76},{"s":"UK","t":1994.3,"v":80},{"s":"UK","t":1994.5,"v":87},{"s":"UK","t":1995,"v":85},{"s":"UK","t":1995.3,"v":62},{"s":"UK","t":1995.5,"v":85},{"s":"UK","t":1995.7,"v":90},{"s":"UK","t":1996,"v":86},{"s":"UK","t":1996.3,"v":82},{"s":"UK","t":1996.5,"v":84},{"s":"UK","t":1996.8,"v":79},{"s":"UK","t":1997,"v":91},{"s":"UK","t":1997.2,"v":85},{"s":"UK","t":1997.4,"v":84},{"s":"UK","t":1997.6,"v":70},{"s":"UK","t":1997.8,"v":86},{"s":"UK","t":1998,"v":88},{"s":"UK","t":1998.3,"v":84},{"s":"UK","t":1998.5,"v":85},{"s":"UK","t":1998.8,"v":80},{"s":"UK","t":1999,"v":91},{"s":"UK","t":1999.2,"v":88},{"s":"UK","t":1999.4,"v":79},{"s":"UK","t":1999.6,"v":88},{"s":"UK","t":1999.8,"v":91},{"s":"UK","t":2000,"v":84},{"s":"UK","t":2000.3,"v":71},{"s":"UK","t":2000.6,"v":76},{"s":"UK","t":2001,"v":78},{"s":"UK","t":2001.3,"v":72},{"s":"UK","t":2001.6,"v":76},{"s":"UK","t":2002,"v":80},{"s":"UK","t":2002.3,"v":75},{"s":"UK","t":2002.6,"v":65},{"s":"UK","t":2003,"v":79},{"s":"UK","t":2003.2,"v":62},{"s":"UK","t":2003.5,"v":76},{"s":"UK","t":2003.8,"v":60},{"s":"UK","t":2004,"v":70},{"s":"UK","t":2004.3,"v":65},{"s":"UK","t":2004.5,"v":60},{"s":"UK","t":2004.8,"v":57},{"s":"UK","t":2005,"v":61},{"s":"UK","t":2005.3,"v":55},{"s":"UK","t":2005.6,"v":45},{"s":"UK","t":2005.9,"v":55},{"s":"UK","t":2006.2,"v":50},{"s":"UK","t":2006.5,"v":40},{"s":"UK","t":2006.8,"v":52},{"s":"UK","t":2007,"v":48},{"s":"UK","t":2007.3,"v":42},{"s":"UK","t":2007.6,"v":50},{"s":"UK","t":2008,"v":50},{"s":"UK","t":2008.3,"v":46},{"s":"UK","t":2008.6,"v":36},{"s":"UK","t":2008.9,"v":47},{"s":"UK","t":2009.2,"v":44},{"s":"UK","t":2009.5,"v":42},{"s":"UK","t":2009.8,"v":48},{"s":"UK","t":2010.1,"v":44},{"s":"UK","t":2010.4,"v":32},{"s":"UK","t":2010.7,"v":42},{"s":"UK","t":2011,"v":38},{"s":"UK","t":2011.3,"v":30},{"s":"UK","t":2011.5,"v":33},{"s":"UK","t":2011.8,"v":26},{"s":"UK","t":2012,"v":33},{"s":"UK","t":2012.3,"v":30},{"s":"UK","t":2012.6,"v":26},{"s":"UK","t":2012.9,"v":30},{"s":"UK","t":2013.2,"v":20},{"s":"UK","t":2013.5,"v":28},{"s":"UK","t":2013.8,"v":25},{"s":"UK","t":2014.1,"v":29},{"s":"UK","t":2014.4,"v":21},{"s":"UK","t":2014.7,"v":17},{"s":"UK","t":2015,"v":28},{"s":"UK","t":2015.3,"v":30},{"s":"UK","t":2015.6,"v":27},{"s":"UK","t":2016,"v":33},{"s":"UK","t":2016.3,"v":30},{"s":"UK","t":2016.6,"v":32},{"s":"UK","t":2016.9,"v":28},{"s":"UK","t":2017.2,"v":32},{"s":"UK","t":2017.5,"v":25},{"s":"UK","t":2017.8,"v":33},{"s":"UK","t":2018.1,"v":35},{"s":"UK","t":2018.4,"v":30},{"s":"UK","t":2018.7,"v":34},{"s":"UK","t":2019,"v":35},{"s":"UK","t":2019.3,"v":29},{"s":"UK","t":2019.6,"v":34},{"s":"UK","t":2020,"v":34},
{"s":"NIG","t":1992,"v":58},{"s":"NIG","t":1992.3,"v":56},{"s":"NIG","t":1992.7,"v":60},{"s":"NIG","t":1993,"v":61},{"s":"NIG","t":1993.5,"v":57},{"s":"NIG","t":1993.8,"v":62},{"s":"NIG","t":1994.2,"v":58},{"s":"NIG","t":1994.45,"v":47},{"s":"NIG","t":1994.6,"v":58},{"s":"NIG","t":1995,"v":57},{"s":"NIG","t":1995.5,"v":60},{"s":"NIG","t":1996,"v":61},{"s":"NIG","t":1996.5,"v":60},{"s":"NIG","t":1997,"v":62},{"s":"NIG","t":1997.5,"v":65},{"s":"NIG","t":1998,"v":66},{"s":"NIG","t":1998.2,"v":71},{"s":"NIG","t":1998.5,"v":63},{"s":"NIG","t":1998.8,"v":60},{"s":"NIG","t":1999,"v":63},{"s":"NIG","t":1999.5,"v":64},{"s":"NIG","t":2000,"v":61},{"s":"NIG","t":2000.5,"v":65},{"s":"NIG","t":2001,"v":68},{"s":"NIG","t":2001.5,"v":64},{"s":"NIG","t":2002,"v":70},{"s":"NIG","t":2002.5,"v":63},{"s":"NIG","t":2003,"v":66},{"s":"NIG","t":2003.4,"v":60},{"s":"NIG","t":2003.8,"v":70},{"s":"NIG","t":2004,"v":74},{"s":"NIG","t":2004.5,"v":70},{"s":"NIG","t":2005,"v":72},{"s":"NIG","t":2005.5,"v":80},{"s":"NIG","t":2006,"v":80},{"s":"NIG","t":2006.3,"v":72},{"s":"NIG","t":2006.7,"v":75},{"s":"NIG","t":2007,"v":73},{"s":"NIG","t":2007.5,"v":68},{"s":"NIG","t":2008,"v":72},{"s":"NIG","t":2008.5,"v":64},{"s":"NIG","t":2009,"v":66},{"s":"NIG","t":2009.5,"v":62},{"s":"NIG","t":2010,"v":70},{"s":"NIG","t":2010.5,"v":76},{"s":"NIG","t":2011,"v":77},{"s":"NIG","t":2011.5,"v":73},{"s":"NIG","t":2012,"v":78},{"s":"NIG","t":2012.5,"v":72},{"s":"NIG","t":2013,"v":70},{"s":"NIG","t":2013.5,"v":72},{"s":"NIG","t":2014,"v":72},{"s":"NIG","t":2014.5,"v":72},{"s":"NIG","t":2015,"v":67},{"s":"NIG","t":2015.5,"v":68},{"s":"NIG","t":2016,"v":60},{"s":"NIG","t":2016.3,"v":52},{"s":"NIG","t":2016.6,"v":58},{"s":"NIG","t":2016.9,"v":52},{"s":"NIG","t":2017.3,"v":60},{"s":"NIG","t":2017.7,"v":64},{"s":"NIG","t":2018,"v":62},{"s":"NIG","t":2018.4,"v":56},{"s":"NIG","t":2018.8,"v":60},{"s":"NIG","t":2019.2,"v":59},{"s":"NIG","t":2019.6,"v":62},{"s":"NIG","t":2020,"v":60},
{"s":"ALG","t":1992,"v":37},{"s":"ALG","t":1992.8,"v":36},{"s":"ALG","t":1992.9,"v":40},{"s":"ALG","t":1993.5,"v":39},{"s":"ALG","t":1995,"v":39},{"s":"ALG","t":1996,"v":41},{"s":"ALG","t":1997,"v":42},{"s":"ALG","t":1998,"v":43},{"s":"ALG","t":1999,"v":41},{"s":"ALG","t":2000,"v":42},{"s":"ALG","t":2000.5,"v":44},{"s":"ALG","t":2001,"v":45},{"s":"ALG","t":2002,"v":45},{"s":"ALG","t":2002.5,"v":47},{"s":"ALG","t":2003,"v":50},{"s":"ALG","t":2003.5,"v":52},{"s":"ALG","t":2004,"v":54},{"s":"ALG","t":2004.5,"v":56},{"s":"ALG","t":2005,"v":58},{"s":"ALG","t":2005.5,"v":60},{"s":"ALG","t":2006,"v":59},{"s":"ALG","t":2007,"v":59},{"s":"ALG","t":2008,"v":59.5},{"s":"ALG","t":2009,"v":57},{"s":"ALG","t":2010,"v":56},{"s":"ALG","t":2011,"v":56},{"s":"ALG","t":2012,"v":56},{"s":"ALG","t":2012.5,"v":55},{"s":"ALG","t":2013,"v":53},{"s":"ALG","t":2014,"v":52},{"s":"ALG","t":2015,"v":53.5},{"s":"ALG","t":2016,"v":51},{"s":"ALG","t":2017,"v":50},{"s":"ALG","t":2018,"v":48},{"s":"ALG","t":2019,"v":46},{"s":"ALG","t":2020,"v":47},
{"s":"LIB","t":1992,"v":45},{"s":"LIB","t":1992.3,"v":42},{"s":"LIB","t":1992.8,"v":45},{"s":"LIB","t":1993,"v":41},{"s":"LIB","t":1994,"v":42},{"s":"LIB","t":1995,"v":43},{"s":"LIB","t":1996,"v":43},{"s":"LIB","t":1997,"v":44},{"s":"LIB","t":1998,"v":45},{"s":"LIB","t":1998.5,"v":42},{"s":"LIB","t":1999,"v":41},{"s":"LIB","t":2000,"v":43},{"s":"LIB","t":2001,"v":45},{"s":"LIB","t":2001.5,"v":42},{"s":"LIB","t":2002,"v":40},{"s":"LIB","t":2002.5,"v":42},{"s":"LIB","t":2003,"v":44},{"s":"LIB","t":2004,"v":45},{"s":"LIB","t":2004.5,"v":48},{"s":"LIB","t":2005,"v":52},{"s":"LIB","t":2006,"v":54},{"s":"LIB","t":2006.5,"v":56},{"s":"LIB","t":2007,"v":57},{"s":"LIB","t":2008,"v":59.5},{"s":"LIB","t":2008.5,"v":58},{"s":"LIB","t":2009,"v":55},{"s":"LIB","t":2010,"v":56},{"s":"LIB","t":2011,"v":55},{"s":"LIB","t":2011.2,"v":30},{"s":"LIB","t":2011.5,"v":3},{"s":"LIB","t":2011.7,"v":0},{"s":"LIB","t":2011.9,"v":20},{"s":"LIB","t":2012.1,"v":40},{"s":"LIB","t":2012.5,"v":50},{"s":"LIB","t":2013,"v":47},{"s":"LIB","t":2013.3,"v":45},{"s":"LIB","t":2013.5,"v":20},{"s":"LIB","t":2013.8,"v":10},{"s":"LIB","t":2014.1,"v":17},{"s":"LIB","t":2014.4,"v":9},{"s":"LIB","t":2014.8,"v":17},{"s":"LIB","t":2015.1,"v":13},{"s":"LIB","t":2015.5,"v":15},{"s":"LIB","t":2016,"v":12},{"s":"LIB","t":2016.5,"v":10},{"s":"LIB","t":2016.8,"v":17},{"s":"LIB","t":2017.2,"v":24},{"s":"LIB","t":2017.5,"v":20},{"s":"LIB","t":2018,"v":30},{"s":"LIB","t":2018.5,"v":33},{"s":"LIB","t":2018.7,"v":22},{"s":"LIB","t":2019,"v":35},{"s":"LIB","t":2019.5,"v":37},{"s":"LIB","t":2020,"v":38},
{"s":"EGY","t":1992,"v":27},{"s":"EGY","t":1993,"v":27},{"s":"EGY","t":1994,"v":27},{"s":"EGY","t":1995,"v":28},{"s":"EGY","t":1996,"v":28.5},{"s":"EGY","t":1997,"v":28.5},{"s":"EGY","t":1998,"v":26},{"s":"EGY","t":1999,"v":26},{"s":"EGY","t":2000,"v":25},{"s":"EGY","t":2001,"v":24},{"s":"EGY","t":2002,"v":23},{"s":"EGY","t":2003,"v":23},{"s":"EGY","t":2004,"v":22},{"s":"EGY","t":2005,"v":21},{"s":"EGY","t":2006,"v":21},{"s":"EGY","t":2007,"v":20},{"s":"EGY","t":2008,"v":20.5},{"s":"EGY","t":2009,"v":21},{"s":"EGY","t":2010,"v":20.5},{"s":"EGY","t":2011,"v":21.5},{"s":"EGY","t":2012,"v":21},{"s":"EGY","t":2013,"v":21},{"s":"EGY","t":2014,"v":21.5},{"s":"EGY","t":2015,"v":21},{"s":"EGY","t":2016,"v":21.5},{"s":"EGY","t":2017,"v":20},{"s":"EGY","t":2018,"v":20},{"s":"EGY","t":2019,"v":19.5},{"s":"EGY","t":2020,"v":19},
{"s":"ECU","t":1992,"v":9},{"s":"ECU","t":1993,"v":10},{"s":"ECU","t":1994,"v":10.5},{"s":"ECU","t":1995,"v":11.5},{"s":"ECU","t":1996,"v":11.5},{"s":"ECU","t":1997,"v":12},{"s":"ECU","t":1998,"v":11},{"s":"ECU","t":1999,"v":11},{"s":"ECU","t":2000,"v":11.5},{"s":"ECU","t":2001,"v":12},{"s":"ECU","t":2002,"v":12},{"s":"ECU","t":2003,"v":12},{"s":"ECU","t":2003.6,"v":10},{"s":"ECU","t":2004,"v":15},{"s":"ECU","t":2005,"v":16},{"s":"ECU","t":2006,"v":16},{"s":"ECU","t":2007,"v":15.5},{"s":"ECU","t":2008,"v":15.5},{"s":"ECU","t":2009,"v":15},{"s":"ECU","t":2010,"v":14.5},{"s":"ECU","t":2011,"v":15},{"s":"ECU","t":2012,"v":15},{"s":"ECU","t":2013,"v":15.5},{"s":"ECU","t":2014,"v":16.5},{"s":"ECU","t":2015,"v":17},{"s":"ECU","t":2016,"v":16.5},{"s":"ECU","t":2017,"v":17},{"s":"ECU","t":2018,"v":16},{"s":"ECU","t":2019,"v":16},{"s":"ECU","t":2020,"v":16.5}
],
"g3":[
{"s":"RUSSIA","t":1992,"v":252},{"s":"RUSSIA","t":1992.1,"v":237},{"s":"RUSSIA","t":1992.35,"v":241},{"s":"RUSSIA","t":1992.55,"v":231},{"s":"RUSSIA","t":1992.8,"v":222},{"s":"RUSSIA","t":1993,"v":216},{"s":"RUSSIA","t":1993.15,"v":222},{"s":"RUSSIA","t":1993.5,"v":209},{"s":"RUSSIA","t":1994,"v":199},{"s":"RUSSIA","t":1994.5,"v":191},{"s":"RUSSIA","t":1995.3,"v":188},{"s":"RUSSIA","t":1996.2,"v":182},{"s":"RUSSIA","t":1997.1,"v":180},{"s":"RUSSIA","t":1997.6,"v":185},{"s":"RUSSIA","t":1998.2,"v":179},{"s":"RUSSIA","t":1998.9,"v":185},{"s":"RUSSIA","t":1999.8,"v":193},{"s":"RUSSIA","t":2000.5,"v":203},{"s":"RUSSIA","t":2001.2,"v":209},{"s":"RUSSIA","t":2001.9,"v":222},{"s":"RUSSIA","t":2002.5,"v":234},{"s":"RUSSIA","t":2003.2,"v":251},{"s":"RUSSIA","t":2003.7,"v":268},{"s":"RUSSIA","t":2004.4,"v":283},{"s":"RUSSIA","t":2005,"v":283},{"s":"RUSSIA","t":2005.7,"v":289},{"s":"RUSSIA","t":2006.6,"v":296},{"s":"RUSSIA","t":2007.8,"v":300},{"s":"RUSSIA","t":2008.4,"v":295},{"s":"RUSSIA","t":2009.1,"v":296},{"s":"RUSSIA","t":2010,"v":306},{"s":"RUSSIA","t":2011.2,"v":312},{"s":"RUSSIA","t":2011.7,"v":307},{"s":"RUSSIA","t":2012.1,"v":316},{"s":"RUSSIA","t":2013,"v":321},{"s":"RUSSIA","t":2013.9,"v":327},{"s":"RUSSIA","t":2014.6,"v":322},{"s":"RUSSIA","t":2015,"v":330},{"s":"RUSSIA","t":2015.7,"v":332},{"s":"RUSSIA","t":2016.1,"v":338},{"s":"RUSSIA","t":2016.5,"v":329},{"s":"RUSSIA","t":2016.8,"v":344},{"s":"RUSSIA","t":2017.5,"v":335},{"s":"RUSSIA","t":2018.2,"v":335},{"s":"RUSSIA","t":2018.6,"v":348},{"s":"RUSSIA","t":2019,"v":350},{"s":"RUSSIA","t":2019.4,"v":339},{"s":"RUSSIA","t":2020,"v":344},
{"s":"SAUDI ARABIA","t":1992,"v":260},{"s":"SAUDI ARABIA","t":1992.2,"v":245},{"s":"SAUDI ARABIA","t":1992.7,"v":250},{"s":"SAUDI ARABIA","t":1992.95,"v":255},{"s":"SAUDI ARABIA","t":1993.05,"v":277},{"s":"SAUDI ARABIA","t":1993.35,"v":261},{"s":"SAUDI ARABIA","t":1994,"v":270},{"s":"SAUDI ARABIA","t":1994.3,"v":262},{"s":"SAUDI ARABIA","t":1994.6,"v":272},{"s":"SAUDI ARABIA","t":1995.3,"v":280},{"s":"SAUDI ARABIA","t":1995.7,"v":283},{"s":"SAUDI ARABIA","t":1996,"v":270},{"s":"SAUDI ARABIA","t":1996.9,"v":280},{"s":"SAUDI ARABIA","t":1997.5,"v":283},{"s":"SAUDI ARABIA","t":1998,"v":298},{"s":"SAUDI ARABIA","t":1998.4,"v":290},{"s":"SAUDI ARABIA","t":1998.9,"v":277},{"s":"SAUDI ARABIA","t":1999.3,"v":261},{"s":"SAUDI ARABIA","t":1999.8,"v":266},{"s":"SAUDI ARABIA","t":2000.5,"v":283},{"s":"SAUDI ARABIA","t":2000.7,"v":304},{"s":"SAUDI ARABIA","t":2001.1,"v":298},{"s":"SAUDI ARABIA","t":2001.3,"v":274},{"s":"SAUDI ARABIA","t":2001.5,"v":283},{"s":"SAUDI ARABIA","t":2002,"v":261},{"s":"SAUDI ARABIA","t":2002.1,"v":250},{"s":"SAUDI ARABIA","t":2002.5,"v":261},{"s":"SAUDI ARABIA","t":2003,"v":280},{"s":"SAUDI ARABIA","t":2003.2,"v":322},{"s":"SAUDI ARABIA","t":2003.5,"v":296},{"s":"SAUDI ARABIA","t":2003.9,"v":298},{"s":"SAUDI ARABIA","t":2004.1,"v":313},{"s":"SAUDI ARABIA","t":2004.4,"v":303},{"s":"SAUDI ARABIA","t":2004.5,"v":336},{"s":"SAUDI ARABIA","t":2005,"v":336},{"s":"SAUDI ARABIA","t":2005.3,"v":347},{"s":"SAUDI ARABIA","t":2005.7,"v":347},{"s":"SAUDI ARABIA","t":2006.4,"v":338},{"s":"SAUDI ARABIA","t":2006.6,"v":332},{"s":"SAUDI ARABIA","t":2006.9,"v":322},{"s":"SAUDI ARABIA","t":2007.3,"v":319},{"s":"SAUDI ARABIA","t":2007.8,"v":319},{"s":"SAUDI ARABIA","t":2008.2,"v":341},{"s":"SAUDI ARABIA","t":2008.6,"v":356},{"s":"SAUDI ARABIA","t":2008.8,"v":347},{"s":"SAUDI ARABIA","t":2009,"v":304},{"s":"SAUDI ARABIA","t":2009.3,"v":304},{"s":"SAUDI ARABIA","t":2009.6,"v":318},{"s":"SAUDI ARABIA","t":2009.9,"v":312},{"s":"SAUDI ARABIA","t":2010.1,"v":328},{"s":"SAUDI ARABIA","t":2010.5,"v":341},{"s":"SAUDI ARABIA","t":2010.8,"v":325},{"s":"SAUDI ARABIA","t":2011.2,"v":328},{"s":"SAUDI ARABIA","t":2011.5,"v":357},{"s":"SAUDI ARABIA","t":2011.8,"v":354},{"s":"SAUDI ARABIA","t":2012.2,"v":362},{"s":"SAUDI ARABIA","t":2012.6,"v":360},{"s":"SAUDI ARABIA","t":2013,"v":335},{"s":"SAUDI ARABIA","t":2013.6,"v":367},{"s":"SAUDI ARABIA","t":2013.9,"v":356},{"s":"SAUDI ARABIA","t":2014.3,"v":347},{"s":"SAUDI ARABIA","t":2014.8,"v":345},{"s":"SAUDI ARABIA","t":2015.2,"v":371},{"s":"SAUDI ARABIA","t":2015.7,"v":364},{"s":"SAUDI ARABIA","t":2016.1,"v":365},{"s":"SAUDI ARABIA","t":2016.5,"v":377},{"s":"SAUDI ARABIA","t":2016.8,"v":377},{"s":"SAUDI ARABIA","t":2017.1,"v":359},{"s":"SAUDI ARABIA","t":2017.4,"v":367},{"s":"SAUDI ARABIA","t":2018,"v":364},{"s":"SAUDI ARABIA","t":2018.4,"v":374},{"s":"SAUDI ARABIA","t":2018.8,"v":390},{"s":"SAUDI ARABIA","t":2019,"v":359},{"s":"SAUDI ARABIA","t":2019.3,"v":354},{"s":"SAUDI ARABIA","t":2019.6,"v":347},{"s":"SAUDI ARABIA","t":2019.7,"v":304},{"s":"SAUDI ARABIA","t":2019.8,"v":351},{"s":"SAUDI ARABIA","t":2020,"v":348}
],
"g4":[
{"s":"USA","t":1992,"v":221},{"s":"USA","t":1992.6,"v":216},{"s":"USA","t":1992.7,"v":208},{"s":"USA","t":1992.95,"v":213},{"s":"USA","t":1993.07,"v":278},{"s":"USA","t":1993.5,"v":265},{"s":"USA","t":1994,"v":263},{"s":"USA","t":1994.65,"v":257},{"s":"USA","t":1995.1,"v":268},{"s":"USA","t":1995.8,"v":254},{"s":"USA","t":1996.5,"v":257},{"s":"USA","t":1997.4,"v":263},{"s":"USA","t":1997.8,"v":257},{"s":"USA","t":1998.3,"v":263},{"s":"USA","t":1998.7,"v":241},{"s":"USA","t":1999.2,"v":242},{"s":"USA","t":1999.9,"v":249},{"s":"USA","t":2000.5,"v":243},{"s":"USA","t":2001,"v":227},{"s":"USA","t":2001.3,"v":245},{"s":"USA","t":2001.9,"v":243},{"s":"USA","t":2002.4,"v":248},{"s":"USA","t":2002.8,"v":230},{"s":"USA","t":2003.3,"v":241},{"s":"USA","t":2003.7,"v":227},{"s":"USA","t":2004.2,"v":235},{"s":"USA","t":2004.6,"v":230},{"s":"USA","t":2004.75,"v":220},{"s":"USA","t":2005.2,"v":236},{"s":"USA","t":2005.5,"v":221},{"s":"USA","t":2005.7,"v":183},{"s":"USA","t":2006.1,"v":213},{"s":"USA","t":2006.7,"v":221},{"s":"USA","t":2007.4,"v":224},{"s":"USA","t":2007.7,"v":220},{"s":"USA","t":2008.3,"v":232},{"s":"USA","t":2008.6,"v":235},{"s":"USA","t":2008.7,"v":188},{"s":"USA","t":2009,"v":227},{"s":"USA","t":2009.4,"v":241},{"s":"USA","t":2009.8,"v":252},{"s":"USA","t":2010.3,"v":257},{"s":"USA","t":2011,"v":257},{"s":"USA","t":2011.2,"v":265},{"s":"USA","t":2011.7,"v":268},{"s":"USA","t":2012,"v":290},{"s":"USA","t":2012.6,"v":298},{"s":"USA","t":2013,"v":320},{"s":"USA","t":2013.5,"v":334},{"s":"USA","t":2013.9,"v":361},{"s":"USA","t":2014.4,"v":383},{"s":"USA","t":2014.6,"v":400},{"s":"USA","t":2015.1,"v":419},{"s":"USA","t":2015.5,"v":425},{"s":"USA","t":2016,"v":422},{"s":"USA","t":2016.4,"v":411},{"s":"USA","t":2016.8,"v":403},{"s":"USA","t":2017.1,"v":416},{"s":"USA","t":2017.6,"v":430},{"s":"USA","t":2017.8,"v":469},{"s":"USA","t":2018,"v":460},{"s":"USA","t":2018.4,"v":488},{"s":"USA","t":2018.7,"v":526},{"s":"USA","t":2019,"v":537},{"s":"USA","t":2019.4,"v":548},{"s":"USA","t":2019.6,"v":538},{"s":"USA","t":2019.8,"v":565},{"s":"USA","t":2020,"v":576}
]
},
"concat":[
{"data":{"name":"g1"},"width":427,"height":272,"title":"Group 1",
"mark":{"type":"line","strokeWidth":1.8,"clip":true},
"encoding":{
"x":{"field":"t","type":"quantitative","scale":{"domain":[1992,2021.07],"nice":false,"zero":false},"axis":{"values":[1992,1996,2000,2004,2008,2012,2016,2020],"format":"d","title":"Years"}},
"y":{"field":"v","type":"quantitative","scale":{"domain":[0,180],"nice":false},"axis":{"values":[0,20,40,60,80,100,120,140,160,180],"title":"Production (mm of barrels)"}},
"color":{"field":"s","type":"nominal","scale":{"domain":["UAE","CAN","CHINA","IRAN","IRAQ","KUW","MEX","NOR","VEN"],"range":["#0072BD","#D95319","#EDB120","#7E2F8E","#77AC30","#4DBEEE","#A2142F","#0072BD","#D95319"]},"legend":{"orient":"none","legendX":184,"legendY":225,"columns":3}}}},
{"data":{"name":"g2"},"width":428,"height":272,"title":"Group 2",
"mark":{"type":"line","strokeWidth":1.8,"clip":true},
"encoding":{
"x":{"field":"t","type":"quantitative","scale":{"domain":[1992,2021.07],"nice":false,"zero":false},"axis":{"values":[1992,1996,2000,2004,2008,2012,2016,2020],"format":"d","title":"Years"}},
"y":{"field":"v","type":"quantitative","scale":{"domain":[0,100],"nice":false},"axis":{"values":[0,10,20,30,40,50,60,70,80,90,100],"title":"Production (mm of barrels)"}},
"color":{"field":"s","type":"nominal","scale":{"domain":["ANG","ALG","ECU","EGY","UK","LIB","NIG","QAT"],"range":["#0072BD","#D95319","#EDB120","#7E2F8E","#77AC30","#4DBEEE","#A2142F","#0072BD"]},"legend":{"orient":"none","legendX":164,"legendY":8,"columns":4}}}},
{"data":{"name":"g3"},"width":427,"height":273,"title":"Group 3",
"mark":{"type":"line","strokeWidth":1.8,"clip":true},
"encoding":{
"x":{"field":"t","type":"quantitative","scale":{"domain":[1992,2021.07],"nice":false,"zero":false},"axis":{"values":[1992,1996,2000,2004,2008,2012,2016,2020],"format":"d","title":"Years"}},
"y":{"field":"v","type":"quantitative","scale":{"domain":[150,400],"nice":false,"zero":false},"axis":{"values":[150,200,250,300,350,400],"title":"Production (mm of barrels)"}},
"color":{"field":"s","type":"nominal","scale":{"domain":["RUSSIA","SAUDI ARABIA"],"range":["#0072BD","#D95319"]},"legend":{"orient":"none","legendX":227,"legendY":254,"columns":2}}}},
{"data":{"name":"g4"},"width":428,"height":273,"title":"Group 4",
"mark":{"type":"line","strokeWidth":1.8,"clip":true},
"encoding":{
"x":{"field":"t","type":"quantitative","scale":{"domain":[1992,2021.07],"nice":false,"zero":false},"axis":{"values":[1992,1996,2000,2004,2008,2012,2016,2020],"format":"d","title":"Years"}},
"y":{"field":"v","type":"quantitative","scale":{"domain":[150,600],"nice":false,"zero":false},"axis":{"values":[150,200,250,300,350,400,450,500,550,600],"title":"Production (mm of barrels)"}},
"color":{"field":"s","type":"nominal","scale":{"domain":["USA"],"range":["#0072BD"]},"legend":{"orient":"none","legendX":361,"legendY":253,"columns":1}}}}
],
"config":{
"font":"Liberation Sans",
"view":{"stroke":"#262626","strokeWidth":1},
"axis":{"grid":true,"gridColor":"#e3e3e3","gridOpacity":1,"domainColor":"#262626","tickColor":"#262626","tickSize":-4,"labelPadding":9,"labelColor":"#262626","labelFontSize":11,"labelFont":"Liberation Sans","titleFont":"Liberation Sans","titleFontSize":17,"titleFontWeight":"bold","titleColor":"#000000","titlePadding":4},
"axisX":{"labelFlush":false},
"axisY":{"labelPadding":8,"titlePadding":4},
"title":{"fontSize":15,"fontWeight":"bold","color":"#000000","font":"Liberation Sans","offset":-1},
"legend":{"title":null,"symbolType":"M-2.15,0H2.15","symbolSize":196,"symbolOffset":8,"symbolStrokeWidth":2,"strokeColor":"#262626","fillColor":"white","padding":2,"labelFontSize":11,"labelColor":"#000000","labelFont":"Liberation Sans","rowPadding":0,"columnPadding":8,"labelOffset":12,"cornerRadius":0}
}
}
